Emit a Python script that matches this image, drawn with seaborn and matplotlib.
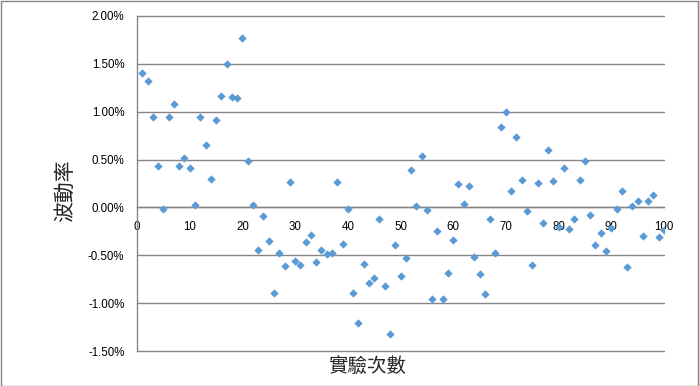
import matplotlib
matplotlib.use("Agg")
import matplotlib.pyplot as plt
import seaborn as sns
import pandas as pd
from matplotlib.patches import Rectangle
from matplotlib.ticker import FuncFormatter, MultipleLocator

trial = list(range(1, 101))
volatility_pct = [
    1.40, 1.32, 0.94, 0.43, -0.02, 0.95, 1.08, 0.43, 0.52, 0.41,
    0.03, 0.95, 0.65, 0.30, 0.91, 1.16, 1.50, 1.15, 1.14, 1.77,
    0.49, 0.03, -0.44, -0.09, -0.35, -0.89, -0.48, -0.61, 0.27, -0.56,
    -0.60, -0.36, -0.29, -0.57, -0.44, -0.49, -0.48, 0.27, -0.38, -0.02,
    -0.89, -1.21, -0.59, -0.79, -0.74, -0.12, -0.82, -1.32, -0.39, -0.72,
    -0.53, 0.39, 0.01, 0.54, -0.03, -0.96, -0.25, -0.96, -0.69, -0.34,
    0.24, 0.04, 0.22, -0.52, -0.70, -0.90, -0.12, -0.48, 0.84, 1.00,
    0.17, 0.74, 0.29, -0.04, -0.60, 0.26, -0.16, 0.60, 0.28, -0.20,
    0.41, -0.23, -0.12, 0.29, 0.48, -0.08, -0.39, -0.27, -0.46, -0.21,
    -0.02, 0.17, -0.62, 0.01, 0.07, -0.30, 0.07, 0.13, -0.31, -0.24,
]
x_label = "實驗次數"
y_label = "波動率"

sns.set_style("white")
plt.rcParams["font.family"] = ["Liberation Sans", "Noto Sans CJK TC", "DejaVu Sans"]

W, H = 699, 386
fig = plt.figure(figsize=(W / 100, H / 100), dpi=100)
L, R, T, B = 137, 664, 16, 351
ax = fig.add_axes([L / W, 1 - B / H, (R - L) / W, (B - T) / H])

df = pd.DataFrame({"trial": trial, "vol": volatility_pct})
sns.scatterplot(data=df, x="trial", y="vol", marker="D", color="#5B9BD5",
                s=18, linewidth=0, ax=ax, zorder=3, legend=False)

ax.set_xlim(0, 100)
ax.set_ylim(-1.5, 2.0)
ax.yaxis.set_major_locator(MultipleLocator(0.5))
ax.xaxis.set_major_locator(MultipleLocator(10))
ax.yaxis.set_major_formatter(FuncFormatter(lambda v, p: f"{v:.2f}%"))
ax.xaxis.set_major_formatter(FuncFormatter(lambda v, p: f"{int(round(v))}"))

grid_c = "#868686"
ax.grid(axis="y", color=grid_c, linewidth=1.0)
ax.grid(axis="x", visible=False)
for gl in ax.get_ygridlines():
    gl.set_clip_on(False)
ax.set_axisbelow(True)

for s in ["top", "right"]:
    ax.spines[s].set_visible(False)
ax.spines["left"].set_color(grid_c)
ax.spines["left"].set_linewidth(1.0)
ax.spines["bottom"].set_position(("data", 0))
ax.spines["bottom"].set_color(grid_c)
ax.spines["bottom"].set_linewidth(1.0)

ax.tick_params(axis="y", length=0, pad=9, labelsize=8.3, colors="black")
ax.tick_params(axis="x", length=0, pad=10, labelsize=8.3, colors="black")
ax.set_xlabel("")
ax.set_ylabel("")

fig.text(65 / W, 1 - 191 / H, y_label, rotation=90, ha="center", va="center",
         fontsize=15, fontweight="medium", family=["Noto Sans CJK TC", "DejaVu Sans"])
fig.text(367 / W, 1 - 367 / H, x_label, ha="center", va="center",
         fontsize=14, fontweight="medium", family=["Noto Sans CJK TC", "DejaVu Sans"])

fig.patches.append(Rectangle((0.5 / W, 0.5 / H), 1 - 1.5 / W, 1 - 1.5 / H,
                             transform=fig.transFigure, fill=False,
                             edgecolor=grid_c, linewidth=1.0))

fig.savefig("out.png", dpi=100)
